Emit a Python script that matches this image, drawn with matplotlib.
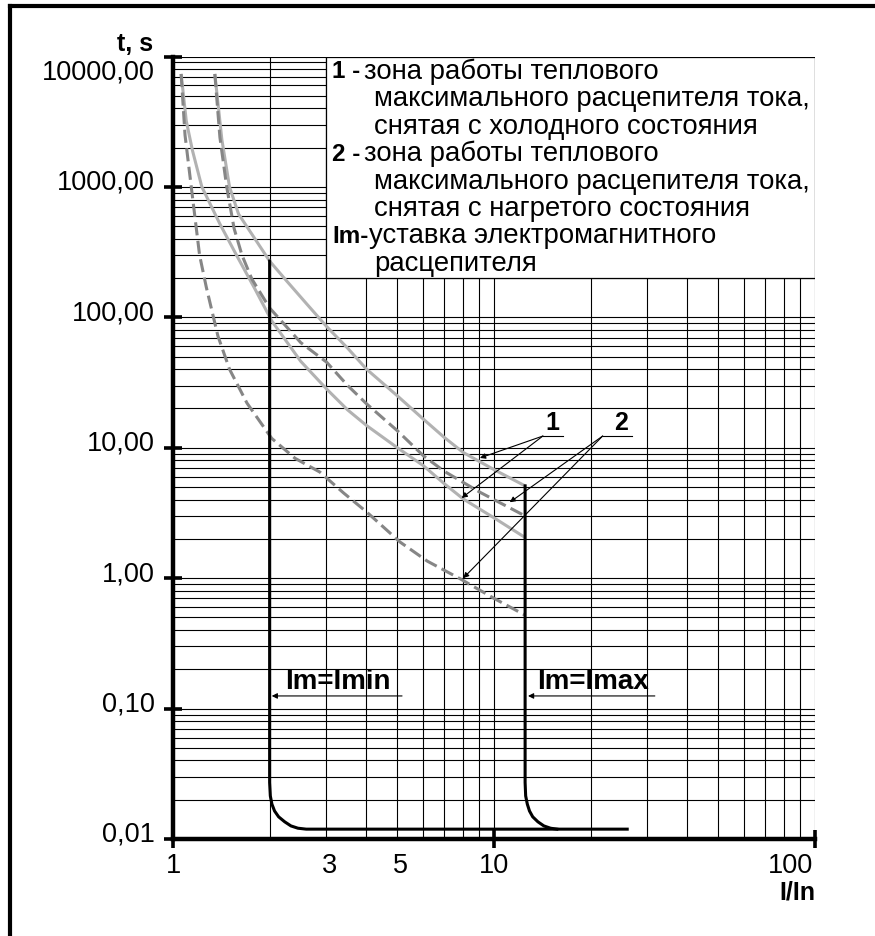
import matplotlib
matplotlib.use("Agg")
import matplotlib.pyplot as plt
from matplotlib.lines import Line2D
from matplotlib.patches import Rectangle
from matplotlib.ticker import LogLocator, NullFormatter
from matplotlib.transforms import offset_copy

plt.rcParams['font.family'] = ['Liberation Sans', 'DejaVu Sans']

# ---------------- data ----------------
# zone 1 (cold state): upper and lower bounds (solid light grey)
cold_upper_x = [1.35, 1.42, 1.50, 1.60, 1.80, 2.00, 2.26, 2.60, 3.01, 3.50, 4.01, 5.00, 6.02, 7.00, 8.02, 10.0, 12.5]
cold_upper_t = [7350, 2300, 1000, 620, 400, 270, 190, 128, 85, 58, 40, 25, 16.6, 12.0, 9.2, 6.8, 5.1]
cold_lower_x = [1.06, 1.10, 1.15, 1.23, 1.40, 1.58, 1.80, 2.03, 2.50, 3.01, 3.50, 4.01, 5.00, 6.02, 7.00, 8.02, 10.0, 12.5]
cold_lower_t = [7350, 3200, 1900, 1000, 520, 297, 165, 94, 46, 28.2, 19.5, 14.8, 10.0, 7.3, 5.3, 4.05, 2.9, 2.05]
# zone 2 (hot state): upper and lower bounds (dashed grey)
hot_upper_x = [1.35, 1.40, 1.47, 1.55, 1.64, 1.76, 2.00, 2.50, 3.01, 3.50, 4.01, 5.00, 6.02, 7.00, 9.04, 12.5]
hot_upper_t = [7350, 2400, 1000, 480, 300, 197, 118, 64, 45.3, 30, 21.7, 13.5, 8.7, 6.6, 4.56, 3.0]
hot_lower_x = [1.06, 1.09, 1.14, 1.21, 1.27, 1.38, 1.50, 1.70, 2.03, 2.40, 2.87, 3.40, 4.01, 5.10, 6.20, 7.84, 10.0, 12.5]
hot_lower_t = [7350, 2500, 1000, 300, 170, 72, 40, 22, 11.8, 8.3, 6.5, 4.5, 3.22, 1.89, 1.35, 0.99, 0.70, 0.52]
# electromagnetic release characteristics (black)
imin_x = [2.0, 2.0, 2.01, 2.033, 2.072, 2.133, 2.228, 2.33, 2.45, 2.60, 26.0]
imin_t = [270, 0.0271, 0.0214, 0.0185, 0.0164, 0.0148, 0.01355, 0.0126, 0.0121, 0.0119, 0.0119]
imax_x = [12.5, 12.5, 12.55, 12.7, 12.9, 13.2, 13.7, 14.3, 15.0, 15.7]
imax_t = [5.1, 0.0271, 0.0214, 0.0185, 0.0164, 0.0148, 0.01355, 0.0126, 0.0121, 0.0119]

y_ticks = [0.01, 0.1, 1, 10, 100, 1000, 10000]
y_labels = ["0,01", "0,10", "1,00", "10,00", "100,00", "1000,00", "10000,00"]
x_label_vals = [1, 3, 5, 10, 100]
x_labels = ["1", "3", "5", "10", "100"]

legend_rows = [
    ("1 -", "зона работы теплового"),
    ("", "максимального расцепителя тока,"),
    ("", "снятая с холодного состояния"),
    ("2 -", "зона работы теплового"),
    ("", "максимального расцепителя тока,"),
    ("", "снятая с нагретого состояния"),
    ("Im-", "уставка электромагнитного"),
    ("", "расцепителя"),
]

# annotation arrows: label -> targets on the curves
ann1_targets = [(9.04, 8.35), (7.93, 4.12)]
ann2_targets = [(11.2, 3.82), (8.02, 1.0)]

# ---------------- figure ----------------
W, H = 875, 937
fig = plt.figure(figsize=(W / 100, H / 100), dpi=100)
fig.patch.set_facecolor('white')

def P(x, y):
    return x / W, 1 - y / H

ax_l, ax_r, ax_t, ax_b = 173, 815, 57.5, 840
ax = fig.add_axes([ax_l / W, 1 - ax_b / H, (ax_r - ax_l) / W, (ax_b - ax_t) / H])
ax.set_xscale('log')
ax.set_yscale('log')
ax.set_xlim(1, 100)
ax.set_ylim(0.01, 10000)

ax.xaxis.set_major_locator(LogLocator(base=10, numticks=10))
ax.xaxis.set_minor_locator(LogLocator(base=10, subs=range(2, 10), numticks=20))
ax.yaxis.set_major_locator(LogLocator(base=10, numticks=10))
ax.yaxis.set_minor_locator(LogLocator(base=10, subs=range(2, 10), numticks=20))
for a in (ax.xaxis, ax.yaxis):
    a.set_major_formatter(NullFormatter())
    a.set_minor_formatter(NullFormatter())

ax.set_axisbelow(True)
ax.grid(which='both', color='black', linewidth=0.8)
ax.tick_params(which='major', direction='inout', length=13, width=2.6, color='black')
ax.tick_params(which='minor', length=0)
for s in ['top', 'right']:
    ax.spines[s].set_visible(False)
for s in ['left', 'bottom']:
    ax.spines[s].set_linewidth(3.2)
    ax.spines[s].set_color('black')

# legend box (white, covers the grid)
ax.add_patch(Rectangle((3, 200), 97, 9800, facecolor='white', edgecolor='black',
                       linewidth=0.9, zorder=1.5))

light = '#b2b2b2'
dark = '#868686'
ax.plot(cold_upper_x, cold_upper_t, color=light, lw=2.2, zorder=3, solid_capstyle='butt')
ax.plot(cold_lower_x, cold_lower_t, color=light, lw=2.2, zorder=3, solid_capstyle='butt')
ax.plot(hot_upper_x, hot_upper_t, color=dark, lw=2.2, dashes=(4.3, 1.8), zorder=3)
ax.plot(hot_lower_x, hot_lower_t, color=dark, lw=2.2, dashes=(4.3, 1.8), zorder=3)
ax.plot(imin_x, imin_t, color='black', lw=2.2, zorder=4)
ax.plot(imax_x, imax_t, color='black', lw=2.2, zorder=4)

# tick labels
FS_TICK = 19.5
ytr = ax.get_yaxis_transform()
for v, lab in zip(y_ticks, y_labels):
    dy = -10.5 if v == 10000 else 3.6
    tr = offset_copy(ytr, fig=fig, x=0, y=dy, units='points')
    ax.text(-0.028, v, lab, transform=tr, ha='right', va='center', fontsize=FS_TICK)
xtr = ax.get_xaxis_transform()
for v, lab in zip(x_label_vals, x_labels):
    if v == 100:
        tr = offset_copy(xtr, fig=fig, x=-1, y=-19, units='points')
        ax.text(v, 0, lab, transform=tr, ha='right', va='center', fontsize=FS_TICK)
    else:
        dx = 2.5 if v in (3, 5) else 0
        tr = offset_copy(xtr, fig=fig, x=dx, y=-19, units='points')
        ax.text(v, 0, lab, transform=tr, ha='center', va='center', fontsize=FS_TICK)

fig.text(*P(153, 44), "t, s", ha='right', va='center', fontsize=18, fontweight='bold')
fig.text(*P(815, 893), "I/In", ha='right', va='center', fontsize=18, fontweight='bold')

# legend text
FS_LEG = 19.8
row_y0, row_dy = 72, 27.4
for i, (b, t) in enumerate(legend_rows):
    y = row_y0 + i * row_dy
    if b:
        fig.text(*P(332, y), b, ha='left', va='center', fontsize=17.5, fontweight='bold')
        x0 = 369 if b.startswith('Im') else 364
        fig.text(*P(x0, y), t, ha='left', va='center', fontsize=FS_LEG)
    else:
        fig.text(*P(374, y), t, ha='left', va='center', fontsize=FS_LEG)

# Im=Imin / Im=Imax labels with arrows
arrow_kw = dict(arrowstyle='-|>', lw=0.8, color='black', mutation_scale=8, shrinkA=0, shrinkB=0)
ax.text(2.23, 0.163, "Im=Imin", ha='left', va='center', fontsize=20, fontweight='bold', zorder=5)
ax.annotate("", xy=(2.03, 0.125), xytext=(5.17, 0.125), arrowprops=arrow_kw, zorder=5)
ax.text(13.6, 0.163, "Im=Imax", ha='left', va='center', fontsize=20, fontweight='bold', zorder=5)
ax.annotate("", xy=(12.76, 0.125), xytext=(31.7, 0.125), arrowprops=arrow_kw, zorder=5)

# "1" and "2" labels with leader arrows
for lab, cx, x0, x1, targets in [("1", 15.2, 14.2, 16.4, ann1_targets),
                                 ("2", 24.9, 21.8, 26.9, ann2_targets)]:
    ax.text(cx, 15.8, lab, ha='center', va='center', fontsize=18, fontweight='bold', zorder=5)
    ax.plot([x0, x1], [12.3, 12.3], color='black', lw=0.8, zorder=5)
    for tx, ty in targets:
        ax.annotate("", xy=(tx, ty), xytext=(x0, 12.3), arrowprops=arrow_kw, zorder=5)

# outer frame (left and top edges)
fig.add_artist(Line2D([10 / W, 10 / W], [0, 1 - 7 / H], transform=fig.transFigure,
                      color='black', lw=3.0, solid_capstyle='projecting'))
fig.add_artist(Line2D([10 / W, 1], [1 - 7 / H, 1 - 7 / H], transform=fig.transFigure,
                      color='black', lw=3.0, solid_capstyle='projecting'))

fig.savefig("out.png", dpi=100, facecolor='white')
